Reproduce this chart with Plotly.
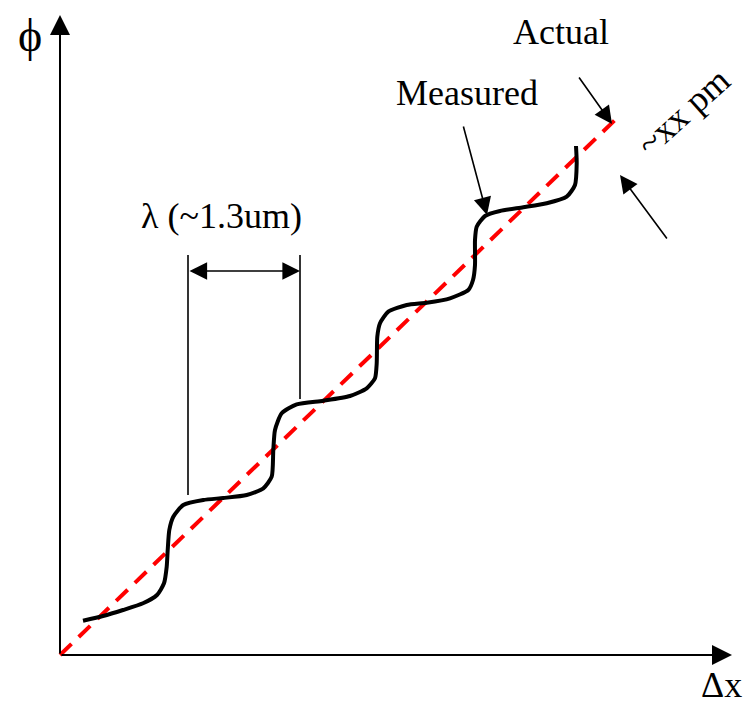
import plotly.graph_objects as go

# Measured curve points (data units, origin at axis corner)
meas_x = [23, 43, 63, 83, 97, 104, 106.7, 107.7, 109.3, 113.3, 123.3, 143.3, 163.3, 186.7,
          203.3, 211.7, 213.3, 215, 221.7, 236.7, 263.3, 290, 306.7, 315, 316.7, 317.3,
          320, 328.3, 346.7, 366.7, 390, 408.3, 413, 415, 415, 416.7, 425, 440, 463.3,
          486.7, 506.7, 515, 516.7, 516]
meas_y = [34.3, 39, 45, 51.7, 60, 71.7, 88.3, 105, 125, 138.3, 150, 155, 157, 160,
          166.7, 178.3, 205, 225, 241.7, 250.7, 254.3, 259, 266.7, 276.7, 291.7, 318.3,
          331.7, 343.3, 350, 352.3, 356.7, 365, 375, 390, 415, 428.3, 439, 444, 447.7,
          451.7, 458.3, 470, 491.7, 509]

# Actual (ideal) line
act_x = [0, 555]
act_y = [0, 535]

# Axis extents
x_axis_end = 672
y_axis_end = 640

# lambda markers
lam_left = 128
lam_right = 240
lam_left_bottom = 160
lam_right_bottom = 256
lam_top = 400
lam_arrow_y = 384

FONT = "Liberation Serif"

fig = go.Figure()

fig.add_trace(go.Scatter(x=act_x, y=act_y, mode="lines",
                         line=dict(color="#ff0000", width=4, dash="16px,10px"),
                         hoverinfo="skip"))
fig.add_trace(go.Scatter(x=meas_x, y=meas_y, mode="lines",
                         line=dict(color="black", width=4, shape="spline", smoothing=0.6),
                         hoverinfo="skip"))

# lambda vertical lines
fig.add_trace(go.Scatter(x=[lam_left, lam_left], y=[lam_left_bottom, lam_top], mode="lines",
                         line=dict(color="black", width=1.6), hoverinfo="skip"))
fig.add_trace(go.Scatter(x=[lam_right, lam_right], y=[lam_right_bottom, lam_top], mode="lines",
                         line=dict(color="black", width=1.6), hoverinfo="skip"))

def arrow(x0, y0, x1, y1, width=1.6, size=2.2, side="end", head=2):
    fig.add_annotation(x=x1, y=y1, ax=x0, ay=y0, xref="x", yref="y", axref="x", ayref="y",
                       text="", showarrow=True, arrowhead=head, arrowsize=size,
                       arrowwidth=width, arrowcolor="black", arrowside=side,
                       startarrowhead=head, startarrowsize=size)

# axes
arrow(0, 0, x_axis_end, 0, width=2, size=2.0)
arrow(0, 0, 0, y_axis_end, width=2, size=2.0)

# annotation arrows
arrow(518, 579, 552, 531)
arrow(403, 530, 427, 440)
arrow(608, 415, 560, 480)
arrow(lam_left, lam_arrow_y, lam_right, lam_arrow_y, side="end+start")

def label(x, y, text, angle=0, size=36):
    fig.add_annotation(x=x, y=y, xref="x", yref="y", text=text, showarrow=False,
                       textangle=angle, borderpad=0,
                       font=dict(family=FONT, size=size, color="black"))

label(-30, 620, "ϕ", size=46)
label(661, -30, "Δx")
label(501, 623, "Actual")
label(407, 562, "Measured")
label(161, 439, "λ (~1.3um)")
label(623, 543, "~xx pm", angle=-42)

# page body has an 8px margin: figure covers page pixels 8..754 x 8..705
fig.update_layout(width=746, height=697, margin=dict(l=0, r=0, t=0, b=0),
                  paper_bgcolor="white", plot_bgcolor="white", showlegend=False,
                  xaxis=dict(range=[-52, 694], visible=False, fixedrange=True),
                  yaxis=dict(range=[-50, 647], visible=False, fixedrange=True))

fig.write_html("out.html", config={"displayModeBar": False})
